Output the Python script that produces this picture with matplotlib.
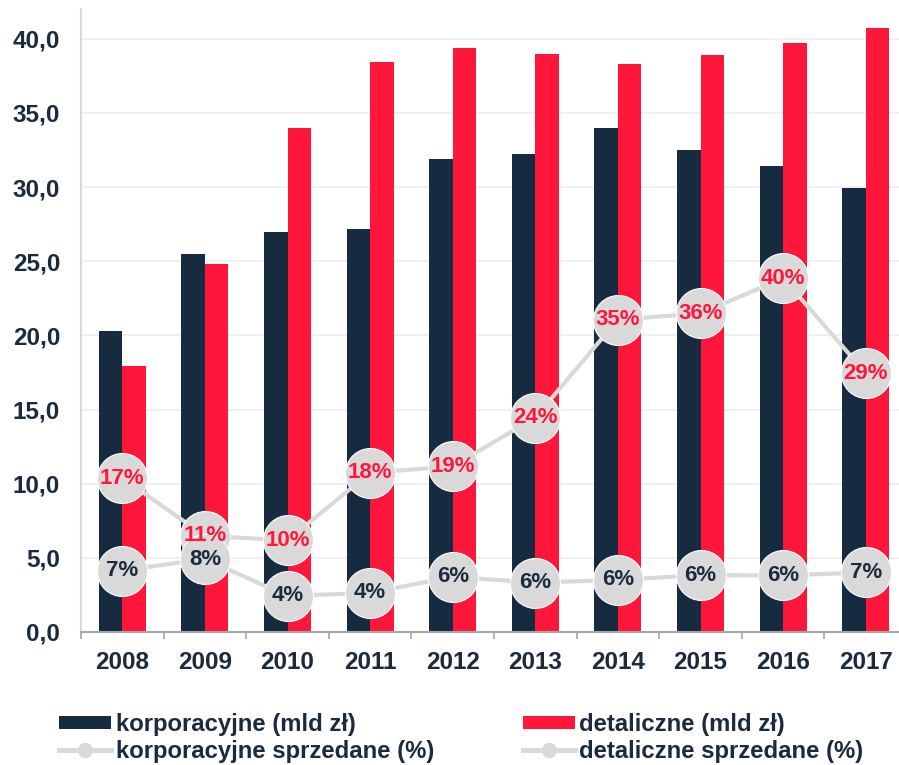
import matplotlib.pyplot as plt
from matplotlib.lines import Line2D
from matplotlib.patches import Patch
import numpy as np

plt.rcParams["font.family"] = ["Liberation Sans", "DejaVu Sans"]
plt.rcParams["font.weight"] = "bold"

years = ["2008", "2009", "2010", "2011", "2012", "2013", "2014", "2015", "2016", "2017"]
korporacyjne = [20.3, 25.5, 27.0, 27.2, 31.9, 32.2, 34.0, 32.5, 31.4, 29.9]
detaliczne = [17.9, 24.8, 34.0, 38.4, 39.4, 39.0, 38.3, 38.9, 39.7, 40.7]
# sold share (%), labels are rounded values
korp_sprzedane = [6.9, 8.2, 4.05, 4.4, 6.2, 5.55, 5.85, 6.4, 6.35, 6.7]
det_sprzedane = [17.3, 10.8, 10.3, 17.9, 18.6, 24.1, 35.1, 35.8, 39.75, 29.1]

NAVY = "#162a40"
RED = "#ff163b"
GREY = "#d9d9d9"
TEXT = "#1b2a3d"

fig = plt.figure(figsize=(8.99, 7.65), dpi=100)
ax = fig.add_axes([81 / 899, 1 - 632 / 765, 826 / 899, 623 / 765])

x = np.arange(len(years))
w = 0.285
ax.bar(x - w / 2, korporacyjne, w, color=NAVY, zorder=2)
ax.bar(x + w / 2, detaliczne, w, color=RED, zorder=2)

ax.set_xlim(-0.5, len(years) - 0.5)
ax.set_ylim(0, 42)
ax.set_yticks(np.arange(0, 41, 5))
ax.set_yticklabels([f"{v:.1f}".replace(".", ",") for v in np.arange(0, 41, 5)])
ax.set_xticks(x)
ax.set_xticklabels(years)
ax.set_xticks(np.arange(-0.5, len(years)), minor=True)
ax.tick_params(axis="both", which="major", length=0, labelsize=17.5, colors=TEXT)
ax.tick_params(axis="x", which="major", pad=14)
ax.tick_params(axis="y", which="major", pad=15)
ax.tick_params(axis="x", which="minor", length=5, width=1.2, color="#a6a6a6")
for t in ax.get_xticklabels() + ax.get_yticklabels():
    t.set_fontweight("bold")

ax.grid(axis="y", color="#f0f0f0", lw=1.5, zorder=0)
for yl in ax.get_ygridlines()[:1]:
    yl.set_visible(False)
for s in ["top", "right"]:
    ax.spines[s].set_visible(False)
ax.spines["left"].set_color(GREY)
ax.spines["left"].set_linewidth(1.5)
ax.spines["bottom"].set_color("#a6a6a6")
ax.spines["bottom"].set_linewidth(1.5)
ax.spines["bottom"].set_zorder(3)

# percentage lines on a hidden secondary scale
ax2 = ax.twinx()
ax2.set_ylim(0, 70)
ax2.axis("off")
ax2.plot(x, det_sprzedane, color=GREY, lw=3, marker="o", ms=36,
         markerfacecolor=GREY, markeredgecolor="white", markeredgewidth=0.8, zorder=3)
ax2.plot(x, korp_sprzedane, color=GREY, lw=3, marker="o", ms=36,
         markerfacecolor=GREY, markeredgecolor="white", markeredgewidth=0.8, zorder=4)
for xi, v in zip(x, det_sprzedane):
    ax2.text(xi, v, f"{round(v):.0f}%", ha="center", va="center", fontsize=16,
             fontweight="bold", color=RED, zorder=6)
for xi, v in zip(x, korp_sprzedane):
    ax2.text(xi, v, f"{round(v):.0f}%", ha="center", va="center", fontsize=16,
             fontweight="bold", color=TEXT, zorder=6)

handles = [
    Patch(facecolor=NAVY, edgecolor="none"),
    Line2D([], [], color=GREY, lw=3.5, marker="o", ms=10),
    Patch(facecolor=RED, edgecolor="none"),
    Line2D([], [], color=GREY, lw=3.5, marker="o", ms=10),
]
labels = ["korporacyjne (mld zł)", "korporacyjne sprzedane (%)",
          "detaliczne (mld zł)", "detaliczne sprzedane (%)"]
leg = fig.legend(handles, labels, ncol=2, loc="upper left",
                 bbox_to_anchor=(59 / 899, 1 - 713 / 765), frameon=False,
                 prop={"size": 17.2, "weight": "bold"}, handlelength=2.18,
                 handleheight=0.5, handletextpad=0.2, columnspacing=3.7,
                 labelspacing=0.15, borderpad=0, borderaxespad=0)
for t in leg.get_texts():
    t.set_color(TEXT)

fig.savefig("out.png", dpi=100)
